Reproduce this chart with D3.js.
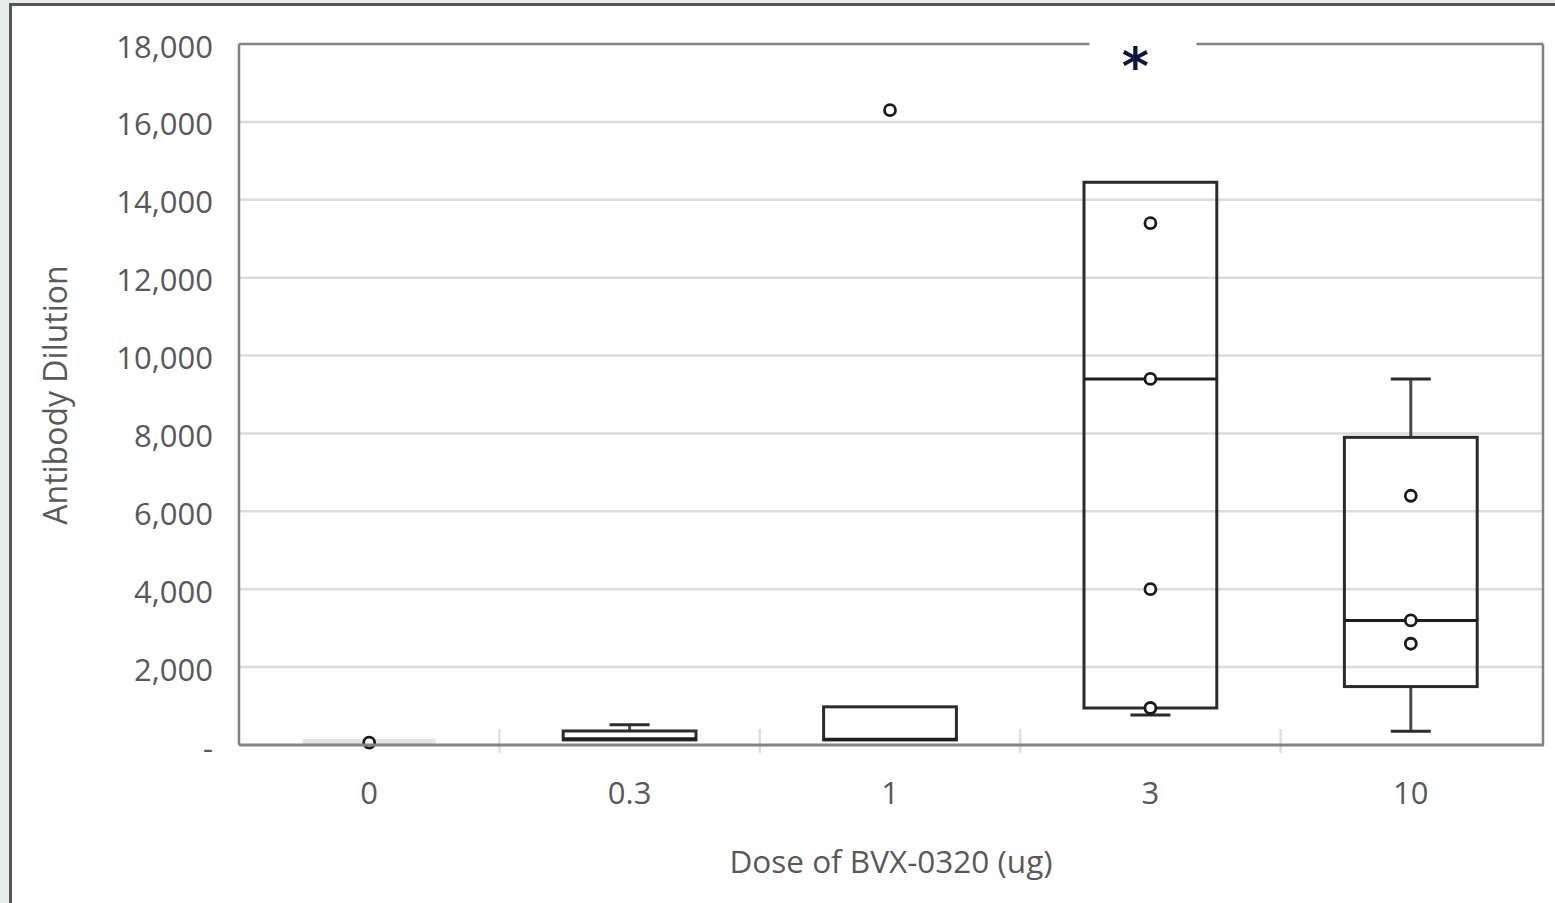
<!DOCTYPE html>
<html><head><meta charset="utf-8">
<script src="https://cdn.jsdelivr.net/npm/d3@7"></script>
<style>
html,body{margin:0;padding:0;background:#e8ecec;}
svg{display:block;}
</style></head>
<body>
<svg id="chart" width="1555" height="903"></svg>
<script>
// ---- data ----
const categories = ["0", "0.3", "1", "3", "10"];
const whiskerLow  = [0,   130,  130,  770,   350];
const q1          = [0,   130,  130,  950,   1500];
const median      = [0,   160,  150,  9400,  3200];
const q3          = [0,   360,  980,  14450, 7900];
const whiskerHigh = [0,   520,  980,  14450, 9400];
const points = [
  [60],
  [],
  [16300],
  [13400, 9400, 4000, 950],
  [6400, 3200, 2600]
];
const yTicks = [0, 2000, 4000, 6000, 8000, 10000, 12000, 14000, 16000, 18000];
const xTitle = "Dose of BVX-0320 (ug)";
const yTitle = "Antibody Dilution";
const sigMark = "*";
const sigCategory = "3";

(function () {
// ---- layout ----
const svg = d3.select("#chart");
const pLeft = 239, pRight = 1543, pTop = 44, pBottom = 745;
const x = d3.scaleBand().domain(categories).range([pLeft, 1541]).padding(0);
const y = d3.scaleLinear().domain([0, 18000]).range([pBottom, pTop]);
const font = "'Open Sans', 'DejaVu Sans', sans-serif";
const textColor = "#595959";

// white card with dark border
svg.append("rect").attr("x", 10.5).attr("y", 4.5).attr("width", 2000).attr("height", 2000)
  .attr("fill", "#fff").attr("stroke", "#555").attr("stroke-width", 3);

// gridlines
svg.append("g").selectAll("line").data(yTicks.filter(d => d > 0 && d < 18000)).join("line")
  .attr("x1", pLeft).attr("x2", pRight).attr("y1", d => y(d)).attr("y2", d => y(d))
  .attr("stroke", "#dcdcdc").attr("stroke-width", 2.5);

// category boundary ticks
svg.append("g").selectAll("line").data(categories.slice(1)).join("line")
  .attr("x1", d => x(d)).attr("x2", d => x(d)).attr("y1", pBottom - 16).attr("y2", pBottom + 8)
  .attr("stroke", "#dedede").attr("stroke-width", 2.5);

// boxes
const bw = x.bandwidth() * 0.51;
const capW = 40;
const g = svg.append("g");
categories.forEach((c, i) => {
  const cx = x(c) + x.bandwidth() / 2;
  const flat = q3[i] === q1[i];
  if (!flat) {
    if (whiskerHigh[i] > q3[i]) {
      g.append("line").attr("x1", cx).attr("x2", cx).attr("y1", y(q3[i])).attr("y2", y(whiskerHigh[i]))
        .attr("stroke", "#4a4a4a").attr("stroke-width", 3);
      g.append("line").attr("x1", cx - capW/2).attr("x2", cx + capW/2).attr("y1", y(whiskerHigh[i])).attr("y2", y(whiskerHigh[i]))
        .attr("stroke", "#2b2b2b").attr("stroke-width", 3);
    }
    if (whiskerLow[i] < q1[i]) {
      g.append("line").attr("x1", cx).attr("x2", cx).attr("y1", y(q1[i])).attr("y2", y(whiskerLow[i]))
        .attr("stroke", "#4a4a4a").attr("stroke-width", 3);
      g.append("line").attr("x1", cx - capW/2).attr("x2", cx + capW/2).attr("y1", y(whiskerLow[i])).attr("y2", y(whiskerLow[i]))
        .attr("stroke", "#2b2b2b").attr("stroke-width", 3);
    }
    g.append("rect").attr("x", cx - bw/2).attr("y", y(q3[i])).attr("width", bw).attr("height", y(q1[i]) - y(q3[i]))
      .attr("fill", "none").attr("stroke", "#2b2b2b").attr("stroke-width", 3);
    g.append("line").attr("x1", cx - bw/2).attr("x2", cx + bw/2).attr("y1", y(median[i])).attr("y2", y(median[i]))
      .attr("stroke", "#1e1e1e").attr("stroke-width", 3);
  } else {
    g.append("rect").attr("x", cx - bw/2).attr("y", y(q3[i]) - 6).attr("width", bw).attr("height", 5)
      .attr("fill", "#e4e4e4");
  }
  g.selectAll(null).data(points[i]).join("circle")
    .attr("cx", cx).attr("cy", d => y(d)).attr("r", 5.5)
    .attr("fill", "#fff").attr("stroke", "#1a1a1a").attr("stroke-width", 2.8);
});

// frame (axis lines), top line with gap for the significance mark
const frame = svg.append("g").attr("stroke", "#828282").attr("stroke-width", 2.5).attr("fill", "none");
const sx = x(sigCategory) + x.bandwidth() / 2 - 16;
frame.append("line").attr("x1", pLeft).attr("x2", pLeft).attr("y1", pTop).attr("y2", pBottom);
frame.append("line").attr("x1", pRight).attr("x2", pRight).attr("y1", pTop).attr("y2", pBottom);
frame.append("line").attr("x1", pLeft).attr("x2", sx - 45).attr("y1", pTop).attr("y2", pTop);
frame.append("line").attr("x1", sx + 62).attr("x2", pRight).attr("y1", pTop).attr("y2", pTop);
frame.append("line").attr("x1", pLeft).attr("x2", pRight + 1).attr("y1", pBottom).attr("y2", pBottom)
  .attr("stroke-width", 3);

// significance mark
svg.append("text").attr("x", sx + 1).attr("y", 84).attr("text-anchor", "middle")
  .attr("font-family", "'DejaVu Sans', sans-serif").attr("font-weight", "bold").attr("font-size", 52)
  .attr("fill", "#0d1640").text(sigMark);

// y axis
const yAxis = d3.axisLeft(y).tickValues(yTicks).tickSize(0).tickPadding(26)
  .tickFormat(d => d === 0 ? "-" : d3.format(",")(d));
const ya = svg.append("g").attr("transform", `translate(${pLeft},0)`).call(yAxis);
ya.select(".domain").remove();
ya.selectAll("text").attr("font-family", font).attr("font-size", 31).attr("fill", textColor)
  .attr("dy", "0.42em");

// x axis
const xAxis = d3.axisBottom(x).tickSize(0).tickPadding(37);
const xa = svg.append("g").attr("transform", `translate(0,${pBottom})`).call(xAxis);
xa.select(".domain").remove();
xa.selectAll("text").attr("font-family", font).attr("font-size", 31).attr("fill", textColor);

// titles
svg.append("text").attr("x", 891).attr("y", 873).attr("text-anchor", "middle")
  .attr("font-family", font).attr("font-size", 31.5).attr("fill", textColor).text(xTitle);
svg.append("text").attr("transform", "translate(67,395) rotate(-90)").attr("text-anchor", "middle")
  .attr("font-family", font).attr("font-size", 32).attr("fill", textColor).text(yTitle);
})();
</script>
</body></html>
